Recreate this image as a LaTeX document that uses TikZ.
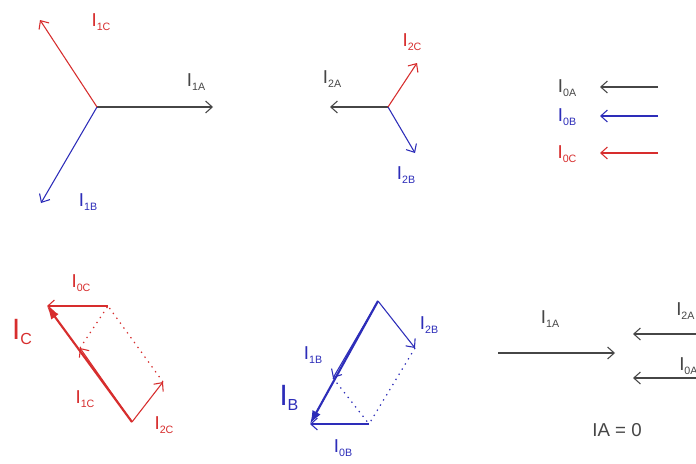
\documentclass[tikz,border=0pt]{standalone}
\usepackage{fontspec}
\setmainfont{Liberation Sans}
\usetikzlibrary{arrows.meta}

\definecolor{phred}{RGB}{215,45,45}
\definecolor{phblue}{RGB}{45,45,185}
\definecolor{phgray}{RGB}{70,70,70}

% current label with subscript
\newcommand{\cur}[1]{I\raisebox{-3pt}{\fontsize{8}{9}\selectfont #1}}
\newcommand{\bigcur}[1]{I\raisebox{-4pt}{\fontsize{12}{13}\selectfont #1}}

\begin{document}
\begin{tikzpicture}[
  x=0.75pt,
  y=-0.75pt,
  vec/.style={-{Straight Barb[length=5pt,width=9pt]}, line width=0.8pt},
  sumvec/.style={-{Latex[length=10pt,width=7pt]}, line width=1.6pt},
  aux/.style={line width=0.9pt, dash pattern=on 1pt off 3.5pt},
  lbl/.style={font=\fontsize{14}{16}\selectfont, inner sep=0pt},
  biglbl/.style={font=\fontsize{22}{24}\selectfont, inner sep=0pt}
]

% Page frame
\useasboundingbox (0,0) rectangle (696,464);
\clip (0,0) rectangle (696,464);
\fill[white] (0,0) rectangle (696,464);

% Positive sequence
\coordinate (o1) at (97,107);
\coordinate (p1A) at (213,107);
\coordinate (p1B) at (41,203);
\coordinate (p1C) at (40,20);
\draw[vec, phgray] (o1) -- (p1A);
\draw[vec, phblue] (o1) -- (p1B);
\draw[vec, phred] (o1) -- (p1C);
\node[lbl, phgray] (l1A) at (196,82) {\cur{1A}};
\node[lbl, phblue] (l1B) at (88,202) {\cur{1B}};
\node[lbl, phred] (l1C) at (101,22) {\cur{1C}};

% Negative sequence
\coordinate (o2) at (388,107);
\coordinate (p2A) at (330,107);
\coordinate (p2B) at (415,153);
\coordinate (p2C) at (417,63);
\draw[vec, phgray] (o2) -- (p2A);
\draw[vec, phblue] (o2) -- (p2B);
\draw[vec, phred] (o2) -- (p2C);
\node[lbl, phgray] (l2A) at (332,79) {\cur{2A}};
\node[lbl, phblue] (l2B) at (406,175) {\cur{2B}};
\node[lbl, phred] (l2C) at (412,42) {\cur{2C}};

% Zero sequence
\foreach \y/\c/\s in {87/phgray/0A,116/phblue/0B,153/phred/0C} {
  \coordinate (t\s) at (658,\y);
  \coordinate (h\s) at (600,\y);
  \draw[vec, \c] (t\s) -- (h\s);
  \node[lbl, \c] (l\s) at (567,\y+1) {\cur{\s}};
}

% Phase C sum
\coordinate (oC) at (132,422);
\coordinate (q1C) at (80,348);
\coordinate (q2C) at (163,382);
\coordinate (vC) at (108,306);
\coordinate (q0C) at (47,306);
\draw[aux, phred] (q1C) -- (vC);
\draw[aux, phred] (q2C) -- (vC);
\draw[sumvec, phred] (oC) -- (q0C);
\draw[vec, phred] (oC) -- (q1C);
\draw[vec, phred] (oC) -- (q2C);
\draw[vec, phred] (vC) -- (q0C);
\node[lbl, phred] (s0C) at (81,283) {\cur{0C}};
\node[biglbl, phred] (sC) at (22,332) {\bigcur{C}};
\node[lbl, phred] (s1C) at (85,399) {\cur{1C}};
\node[lbl, phred] (s2C) at (164,425) {\cur{2C}};

% Phase B sum
\coordinate (oB) at (378,301);
\coordinate (q1B) at (333,378);
\coordinate (q2B) at (415,348);
\coordinate (vB) at (369,424);
\coordinate (q0B) at (310,424);
\draw[aux, phblue] (q1B) -- (vB);
\draw[aux, phblue] (q2B) -- (vB);
\draw[sumvec, phblue] (oB) -- (q0B);
\draw[vec, phblue] (oB) -- (q1B);
\draw[vec, phblue] (oB) -- (q2B);
\draw[vec, phblue] (vB) -- (q0B);
\node[lbl, phblue] (s2B) at (429,325) {\cur{2B}};
\node[lbl, phblue] (s1B) at (313,355) {\cur{1B}};
\node[biglbl, phblue] (sB) at (289,398) {\bigcur{B}};
\node[lbl, phblue] (s0B) at (343,448) {\cur{0B}};

% Phase A sum
\coordinate (a1s) at (498,353);
\coordinate (a1e) at (615,353);
\coordinate (a2s) at (700,334);
\coordinate (a2e) at (633,334);
\coordinate (a0s) at (700,378);
\coordinate (a0e) at (633,378);
\draw[vec, phgray] (a1s) -- (a1e);
\draw[vec, phgray] (a2s) -- (a2e);
\draw[vec, phgray] (a0s) -- (a0e);
\node[lbl, phgray] (r1A) at (550,319) {\cur{1A}};
\node[lbl, phgray, anchor=west] (r2A) at (676,311) {\cur{2A}};
\node[lbl, phgray, anchor=west] (r0A) at (679,366) {\cur{0A}};
\node[lbl, phgray] (rA) at (617,430) {IA = 0};

\end{tikzpicture}
\end{document}
